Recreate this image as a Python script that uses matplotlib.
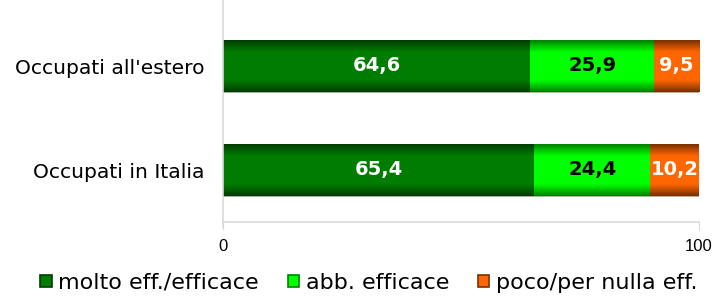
import numpy as np
import matplotlib.pyplot as plt
from matplotlib.patches import Patch

# data
categories = ["Occupati in Italia", "Occupati all'estero"]
molto = [65.4, 64.6]
abb = [24.4, 25.9]
poco = [10.2, 9.5]
series_names = ["molto eff./efficace", "abb. efficace", "poco/per nulla eff."]

# (edge colour, centre colour) of the vertical gradient, text colour
styles = [("#003c00", "#007d00", "white"),
          ("#008000", "#00ff00", "black"),
          ("#7a3000", "#ff6600", "white")]


def gradient(c_edge, c_mid, n=64):
    e = np.array(plt.matplotlib.colors.to_rgb(c_edge))
    m = np.array(plt.matplotlib.colors.to_rgb(c_mid))
    t = np.linspace(0, 1, n)
    w = np.clip(np.sin(np.pi * t) * 1.5, 0, 1)[:, None]
    return (e + (m - e) * w)[:, None, :]


fig = plt.figure(figsize=(7.16, 2.96), dpi=100)
ax = fig.add_axes([223 / 716, 74 / 296, 476 / 716, 208 / 296])

y = np.arange(len(categories))
left = np.zeros(len(categories))
for vals, (c_edge, c_mid, tc) in zip([molto, abb, poco], styles):
    bars = ax.barh(y, vals, left=left, height=0.5, color=c_mid,
                   edgecolor="#b0b0a0", linewidth=0.6)
    for b, v in zip(bars, vals):
        im = ax.imshow(gradient(c_edge, c_mid), aspect="auto",
                       extent=[b.get_x(), b.get_x() + b.get_width(),
                               b.get_y(), b.get_y() + b.get_height()],
                       zorder=b.get_zorder() + 0.1, interpolation="bilinear")
        im.set_clip_path(b)
        ax.text(b.get_x() + b.get_width() / 2, b.get_y() + b.get_height() / 2,
                f"{v:.1f}".replace(".", ","), ha="center", va="center",
                color=tc, fontsize=14, fontweight="bold", zorder=5)
    left += np.array(vals)

ax.set_xlim(0, 100)
ax.set_ylim(-0.5, 1.5)
ax.set_xticks([0, 100])
ax.set_xticklabels(["0", "100"], fontsize=12, family="Liberation Sans")
ax.set_yticks(y)
ax.set_yticklabels(categories, fontsize=14.6)
ax.tick_params(axis="y", length=0, pad=13)
ax.tick_params(axis="x", length=6, color="#d9d9d9", pad=6)
for s in ["top", "right"]:
    ax.spines[s].set_visible(False)
for s in ["left", "bottom"]:
    ax.spines[s].set_color("#d9d9d9")
    ax.spines[s].set_linewidth(1.2)
ax.spines["left"].set_bounds(-0.55, 1.75)

handles = [Patch(facecolor=st[1], edgecolor=st[0], linewidth=1.2) for st in styles]
fig.legend(handles, series_names, loc="center", bbox_to_anchor=(0.515, 13 / 296),
           ncol=3, frameon=False, fontsize=16, handlelength=0.5,
           handleheight=0.5, handletextpad=0.3, columnspacing=1.3,
           borderaxespad=0, borderpad=0)

fig.savefig("out.png", dpi=100)
